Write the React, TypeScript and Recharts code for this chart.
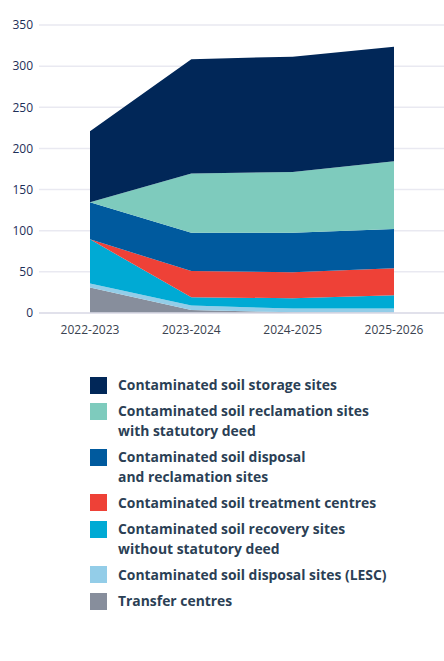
import React from "react";
import { AreaChart, Area, XAxis, YAxis, CartesianGrid, Legend } from "recharts";

// Fiscal years on the category axis
const years = ["2022-2023", "2023-2024", "2024-2025", "2025-2026"];

// Number of sites per category, stacked from the bottom up
const transferCentres = [31, 3.5, 1, 0.5];
const disposalLesc = [5, 5.5, 4.5, 5];
const recoveryWithoutDeed = [53.5, 10, 12.5, 16];
const treatmentCentres = [0, 32, 31.5, 33];
const disposalAndReclamation = [45, 46.5, 48, 47.5];
const reclamationWithDeed = [0, 72, 74, 82.5];
const storageSites = [86.5, 139, 140, 139];

const yTicks = [0, 50, 100, 150, 200, 250, 300, 350];

type Series = { key: string; name: string; color: string; values: number[] };

const series: Series[] = [
  { key: "transfer", name: "Transfer centres", color: "#878e9c", values: transferCentres },
  { key: "lesc", name: "Contaminated soil disposal sites (LESC)", color: "#93cde8", values: disposalLesc },
  { key: "recovery", name: "Contaminated soil recovery sites\nwithout statutory deed", color: "#00aad4", values: recoveryWithoutDeed },
  { key: "treatment", name: "Contaminated soil treatment centres", color: "#ee4137", values: treatmentCentres },
  { key: "disposal", name: "Contaminated soil disposal\nand reclamation sites", color: "#005a9e", values: disposalAndReclamation },
  { key: "reclamation", name: "Contaminated soil reclamation sites\nwith statutory deed", color: "#7ecbbd", values: reclamationWithDeed },
  { key: "storage", name: "Contaminated soil storage sites", color: "#012758", values: storageSites },
];

const data = years.map((year, i) => {
  const row: Record<string, string | number> = { year };
  series.forEach((s) => {
    row[s.key] = s.values[i];
  });
  return row;
});

const FONT = "'Open Sans', 'Noto Sans', sans-serif";

// Legend lists the layers top of the stack first
function StackLegend() {
  const entries = [...series].reverse();
  return (
    <div style={{ fontFamily: FONT }}>
      {entries.map((s) => (
        <div
          key={s.key}
          style={{ display: "flex", alignItems: "flex-start", marginBottom: 6.8 }}
        >
          <span
            style={{
              width: 17,
              height: 17,
              marginTop: 1.5,
              background: s.color,
              flex: "0 0 auto",
            }}
          />
          <span
            style={{
              marginLeft: 11,
              whiteSpace: "pre-line",
              fontSize: 13.9,
              fontWeight: 700,
              lineHeight: "19.5px",
              color: "#2b3f55",
            }}
          >
            {s.name}
          </span>
        </div>
      ))}
    </div>
  );
}

export default function App() {
  return (
    <div style={{ position: "absolute", left: 0, top: 0, width: 444, height: 661, background: "#fff" }}>
      <AreaChart
        width={444}
        height={661}
        data={data}
        margin={{ top: 25, right: 0, bottom: 321, left: 0 }}
      >
        <CartesianGrid vertical={false} stroke="#e9e9f1" strokeWidth={1.5} />
        <XAxis
          dataKey="year"
          height={27}
          padding={{ left: 51, right: 50 }}
          tickLine={false}
          tickSize={0}
          tickMargin={12}
          axisLine={{ stroke: "#dcdce8", strokeWidth: 1.5 }}
          tick={{ fill: "#3a4250", fontSize: 12, fontFamily: FONT }}
          interval={0}
        />
        <YAxis
          width={39}
          domain={[0, 350]}
          ticks={yTicks}
          axisLine={false}
          tickLine={false}
          tickSize={0}
          tickMargin={6}
          interval={0}
          tick={{ fill: "#1e2f58", fontSize: 12, fontFamily: FONT }}
        />
        {series.map((s) => (
          <Area
            key={s.key}
            dataKey={s.key}
            name={s.name}
            stackId="sites"
            type="linear"
            fill={s.color}
            fillOpacity={1}
            stroke="none"
            isAnimationActive={false}
            legendType="square"
          />
        ))}
        <Legend
          layout="vertical"
          align="center"
          verticalAlign="middle"
          content={<StackLegend />}
          wrapperStyle={{ top: 375, left: 90, width: 340, height: "auto" }}
        />
      </AreaChart>
    </div>
  );
}
